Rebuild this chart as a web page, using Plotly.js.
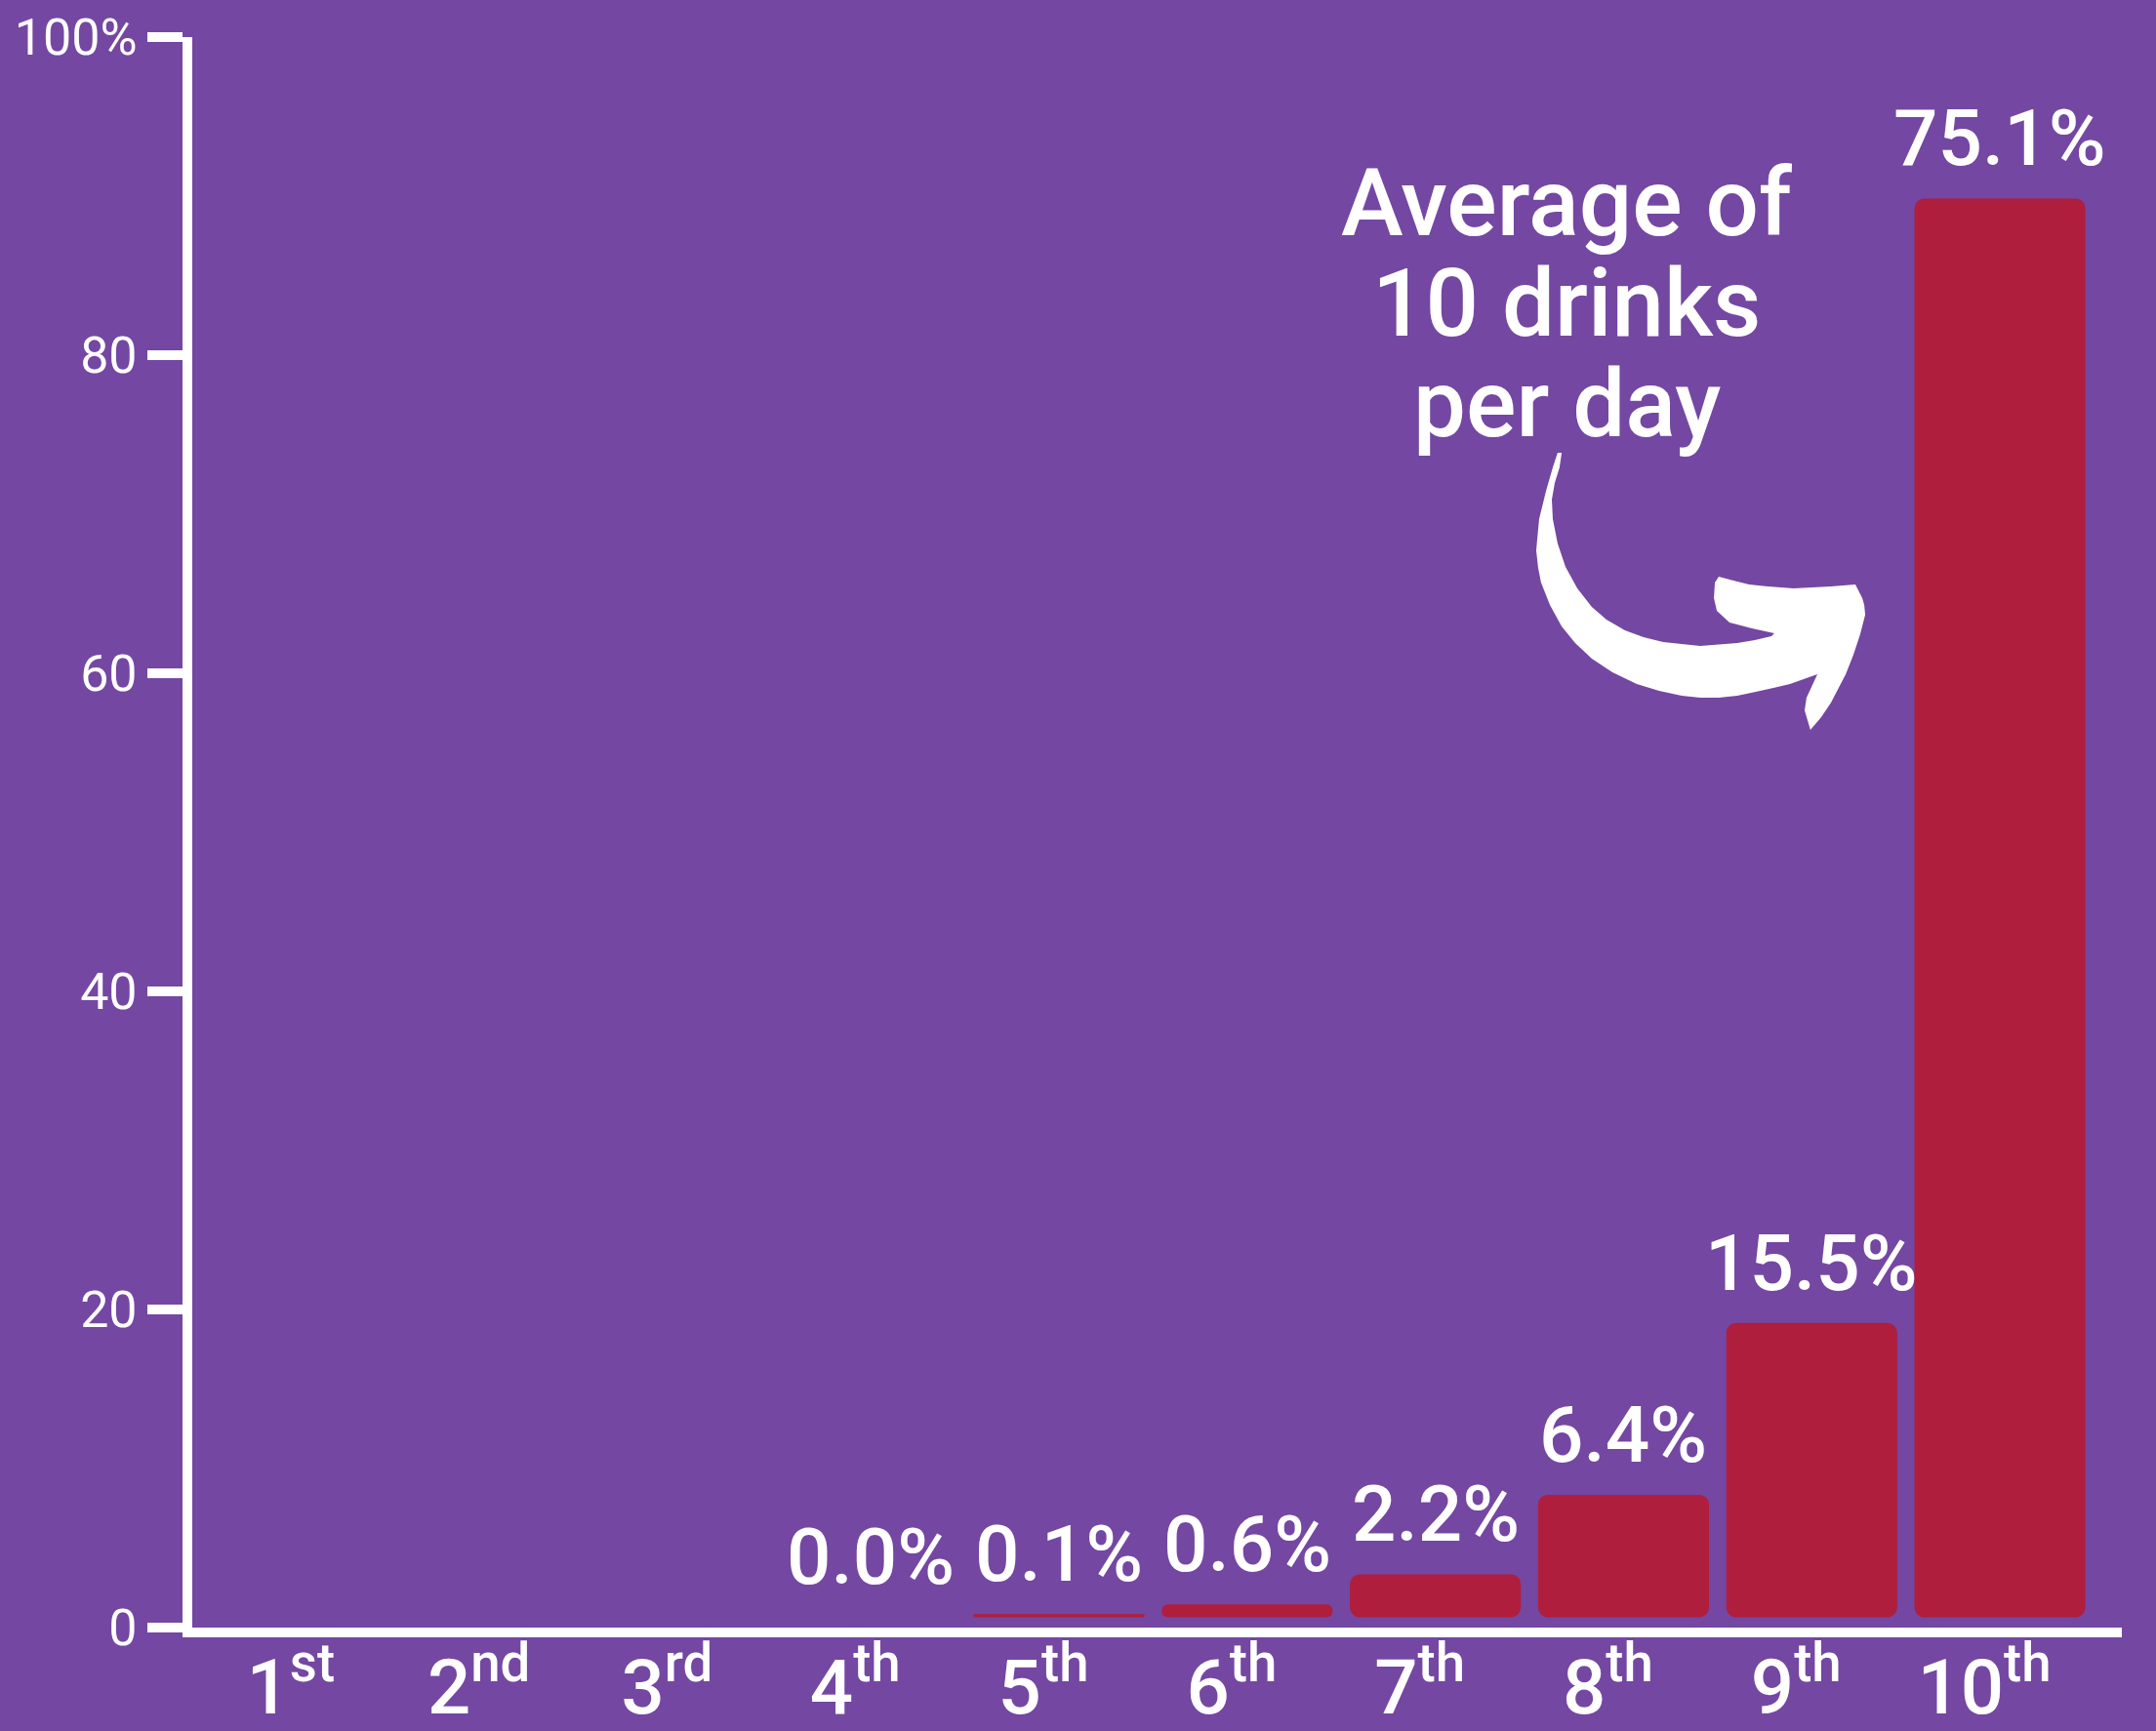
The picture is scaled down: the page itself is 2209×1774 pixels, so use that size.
<!DOCTYPE html>
<html>
<head>
<meta charset="utf-8">
<script src="https://cdn.plot.ly/plotly-3.0.1.min.js"></script>
<style>
  html, body { margin: 0; padding: 0; background: #7447A2; }
  #chart { width: 2209px; height: 1774px; }
</style>
</head>
<body>
<div id="chart"></div>
<script>
// ---- data ----
const categories = ['1st', '2nd', '3rd', '4th', '5th', '6th', '7th', '8th', '9th', '10th'];
const tickLabels = ['1<sup>st</sup>', '2<sup>nd</sup>', '3<sup>rd</sup>', '4<sup>th</sup>', '5<sup>th</sup>',
                    '6<sup>th</sup>', '7<sup>th</sup>', '8<sup>th</sup>', '9<sup>th</sup>', '10<sup>th</sup>'];
// drawn bar heights on the 0-100 axis (as they appear in the picture)
const barHeights = [0, 0, 0, 0, 0.2, 0.8, 2.7, 7.7, 18.5, 89.2];
// printed value labels
const valueLabels = ['', '', '', '0.0%', '0.1%', '0.6%', '2.2%', '6.4%', '15.5%', '75.1%'];
const yTickVals = [0, 20, 40, 60, 80, 100];
const yTickText = ['0', '20', '40', '60', '80', '100%'];
const noteLines = ['Average of', '10 drinks', 'per day'];

// ---- style ----
const BG = '#7447A2';
const BAR = '#AF1E3C';
const WHITE = '#FFFFFF';
const FONT = 'Roboto, "Open Sans", sans-serif';
const BAR_BASE = 0.65;   // bars float just above the axis line

// plot-area geometry in page pixels (for decorative shapes only)
const L = 197, R = 2174, T = 38, B = 1668;
function pxX(x) { return (x - L) / (R - L); }
function pxY(y) { return (B - y) / (B - T); }

const arrowPts = [
  [1596, 464], [1591, 479], [1584, 503], [1577, 532], [1574, 564], [1576, 582], [1579, 597],
  [1588, 620], [1600, 642], [1614, 659], [1631, 675], [1652, 689], [1677, 701], [1700, 708],
  [1723, 713], [1742, 715], [1761, 715], [1780, 713], [1799, 709], [1817, 705], [1834, 701],
  [1862, 691], [1851, 715], [1849, 728], [1855, 748], [1866, 735], [1876, 720], [1891, 691],
  [1899, 671], [1906, 650], [1911, 630], [1910, 620], [1908, 613], [1901, 599], [1876, 601],
  [1838, 603], [1811, 601], [1792, 599], [1761, 591], [1757, 597], [1756, 613], [1759, 626],
  [1772, 638], [1795, 644], [1818, 649], [1815, 652], [1798, 656], [1780, 659], [1742, 662],
  [1704, 658], [1684, 653], [1665, 646], [1646, 635], [1631, 622], [1616, 603], [1604, 581],
  [1596, 557], [1591, 532], [1590, 512], [1593, 495], [1598, 479], [1600, 464]
];
const arrowPath = 'M ' + arrowPts.map(p => pxX(p[0]).toFixed(4) + ',' + pxY(p[1]).toFixed(4)).join(' L ') + ' Z';

const trace = {
  type: 'bar',
  x: categories,
  y: barHeights,
  base: BAR_BASE,
  marker: { color: BAR, cornerradius: 10, line: { width: 0 } },
  width: 0.908,
  hoverinfo: 'skip',
  showlegend: false
};

const annotations = [];
categories.forEach((c, i) => {
  if (!valueLabels[i]) return;
  annotations.push({
    x: c, y: BAR_BASE + barHeights[i], xref: 'x', yref: 'y',
    text: valueLabels[i], showarrow: false,
    xanchor: 'center', yanchor: 'bottom', yshift: 12,
    font: { family: FONT, size: 80, color: WHITE, weight: 500 }
  });
});
const noteCentersY = [208, 311, 414];
noteLines.forEach((t, i) => {
  annotations.push({
    x: pxX(1605), y: pxY(noteCentersY[i]), xref: 'paper', yref: 'paper',
    text: t, showarrow: false, xanchor: 'center', yanchor: 'middle',
    font: { family: FONT, size: 96, color: WHITE, weight: 500 }
  });
});

const layout = {
  width: 2209, height: 1774,
  margin: { l: L, r: 2209 - R, t: T, b: 1774 - B, pad: 0 },
  paper_bgcolor: BG, plot_bgcolor: BG,
  bargap: 0.092,
  xaxis: {
    type: 'category',
    range: [-0.606, 9.648],
    tickvals: categories, ticktext: tickLabels,
    showline: true, linecolor: WHITE, linewidth: 10,
    ticks: '', showgrid: false, zeroline: false,
    tickfont: { family: FONT, size: 78, color: WHITE, weight: 500 },
    ticklabelstandoff: -16,
    ticklabelshift: -16
  },
  yaxis: {
    range: [0, 100],
    tickvals: yTickVals, ticktext: yTickText,
    showline: true, linecolor: WHITE, linewidth: 10,
    ticks: 'outside', ticklen: 36, tickwidth: 10, tickcolor: WHITE,
    showgrid: false, zeroline: false,
    tickfont: { family: FONT, size: 52, color: WHITE }
  },
  shapes: [{
    type: 'path', xref: 'paper', yref: 'paper', path: arrowPath,
    fillcolor: WHITE, line: { width: 0 }, layer: 'above'
  }],
  annotations: annotations
};

Plotly.newPlot('chart', [trace], layout, { displayModeBar: false, staticPlot: true });
</script>
</body>
</html>
